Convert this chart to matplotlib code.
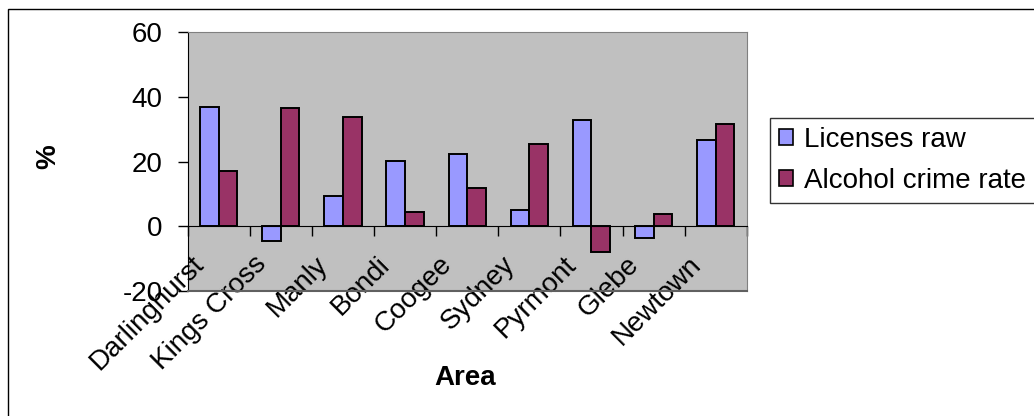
import numpy as np
import matplotlib.pyplot as plt
from matplotlib.patches import Patch, Rectangle
from matplotlib.transforms import ScaledTranslation

plt.rcParams['font.family'] = ['Liberation Sans', 'DejaVu Sans']
plt.rcParams['axes.unicode_minus'] = False

# % change per area
areas = ['Darlinghurst', 'Kings Cross', 'Manly', 'Bondi', 'Coogee',
         'Sydney', 'Pyrmont', 'Glebe', 'Newtown']
licenses_raw = [36.9, -4.7, 9.2, 20.3, 22.2, 4.9, 32.8, -3.6, 26.5]
crime_rate = [17.2, 36.4, 33.8, 4.3, 11.7, 25.3, -7.9, 3.9, 31.5]
yticks = [-20, 0, 20, 40, 60]

blue = '#9999FF'
plum = '#993366'
fs = 20

fig = plt.figure(figsize=(10.34, 4.16), dpi=100)
ax = fig.add_axes([0.1815, 0.3005, 0.5407, 0.6225])
ax.set_facecolor('#C0C0C0')

x = np.arange(len(areas))
w = 0.3
ax.bar(x - w / 2, licenses_raw, w, color=blue, edgecolor='black', linewidth=1.4,
       label='Licenses raw', zorder=3)
ax.bar(x + w / 2, crime_rate, w, color=plum, edgecolor='black', linewidth=1.4,
       label='Alcohol crime rate', zorder=3)

ax.set_xlim(-0.5, len(areas) - 0.5)
ax.set_ylim(-20, 60)
ax.set_yticks(yticks)
ax.tick_params(axis='y', length=7, width=1, pad=11, labelsize=fs)

# category axis sits on the zero line
ax.spines['bottom'].set_position(('data', 0))
ax.spines['bottom'].set_zorder(4)
ax.set_xticks(np.arange(-0.5, len(areas)), minor=False)
ax.set_xticklabels([])
ax.set_xticks(x, minor=True)
ax.set_xticklabels(areas, minor=True, rotation=45, ha='right', va='top',
                   rotation_mode='anchor', fontsize=fs)
ax.tick_params(axis='x', which='major', length=7, width=1, direction='out')
ax.tick_params(axis='x', which='minor', length=0, pad=0)
shift = ScaledTranslation(-0.28, -0.25, fig.dpi_scale_trans)
for lbl in ax.get_xticklabels(minor=True):
    lbl.set_transform(lbl.get_transform() + shift)
    lbl.set_clip_on(False)

for s in ['top', 'right']:
    ax.spines[s].set_color('#808080')
ax.spines['left'].set_color('black')
ax.plot([0, 1], [0, 0], transform=ax.transAxes, color='#606060', lw=1.5,
        clip_on=False, zorder=5)

fig.text(465 / 1034, 1 - 378 / 416, 'Area', ha='center', va='center',
         fontsize=fs, fontweight='bold')
fig.text(48 / 1034, 1 - 157 / 416, '%', ha='center', va='center',
         fontsize=fs, fontweight='bold', rotation=90)

handles = [Patch(facecolor=blue, edgecolor='black', linewidth=1.2),
           Patch(facecolor=plum, edgecolor='black', linewidth=1.2)]
leg = fig.legend(handles, ['Licenses raw', 'Alcohol crime rate'],
                 loc='upper left', bbox_to_anchor=(770 / 1034, 1 - 118 / 416),
                 fontsize=fs, frameon=True, fancybox=False, edgecolor='black',
                 handlelength=0.5, handleheight=0.5, handletextpad=0.4,
                 labelspacing=0.55, borderpad=0.32, borderaxespad=0)
leg.get_frame().set_linewidth(1.0)

# outer chart border
fig.patches.append(Rectangle((7.5 / 1034, -0.1), 1.2, 1.1 - 9.3 / 416,
                             transform=fig.transFigure, fill=False,
                             edgecolor='black', linewidth=1.0))

fig.savefig('out.png', dpi=100)
